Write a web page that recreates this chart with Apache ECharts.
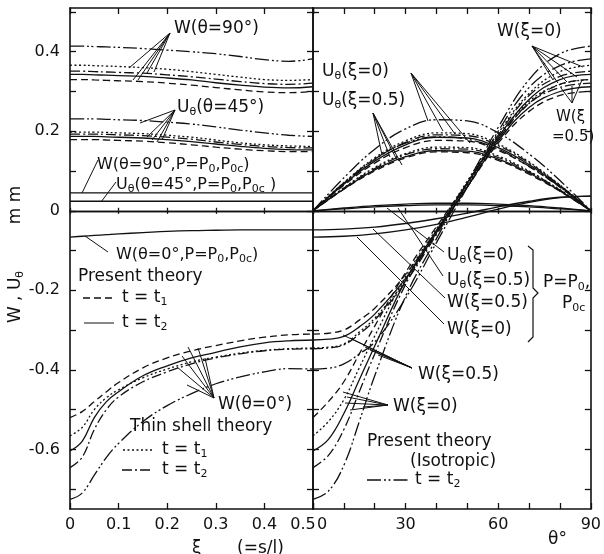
<!DOCTYPE html>
<html>
<head>
<meta charset="utf-8">
<script src="https://cdn.jsdelivr.net/npm/echarts@6/dist/echarts.min.js"></script>
<style>
  html, body { margin: 0; background: #fff; }
  #chart { width: 604px; height: 554px; }
</style>
</head>
<body>
<div id="chart"></div>
<script>
// rows in every group: present t1 (dashed), present t2 (solid), thin t1 (dotted), thin t2 (dash-dot), isotropic t2
const xi = [0, 0.025, 0.05, 0.075, 0.1, 0.15, 0.2, 0.25, 0.3, 0.35, 0.4, 0.45, 0.5];
const wTheta90 = [
  [0.33, 0.33, 0.329, 0.328, 0.327, 0.325, 0.321, 0.316, 0.31, 0.304, 0.299, 0.297, 0.3],
  [0.343, 0.343, 0.342, 0.341, 0.34, 0.338, 0.334, 0.329, 0.322, 0.316, 0.311, 0.309, 0.312],
  [0.366, 0.366, 0.365, 0.364, 0.363, 0.36, 0.356, 0.35, 0.343, 0.336, 0.33, 0.328, 0.33],
  [0.351, 0.351, 0.35, 0.349, 0.348, 0.346, 0.342, 0.337, 0.331, 0.325, 0.32, 0.318, 0.321],
  [0.414, 0.414, 0.413, 0.412, 0.411, 0.408, 0.404, 0.4, 0.395, 0.388, 0.38, 0.376, 0.382]
];
const uTheta45 = [
  [0.179, 0.179, 0.179, 0.178, 0.177, 0.175, 0.171, 0.166, 0.16, 0.155, 0.151, 0.149, 0.149],
  [0.187, 0.187, 0.187, 0.186, 0.185, 0.183, 0.179, 0.174, 0.168, 0.162, 0.157, 0.154, 0.153],
  [0.198, 0.198, 0.198, 0.197, 0.196, 0.194, 0.19, 0.185, 0.178, 0.171, 0.166, 0.163, 0.162],
  [0.193, 0.193, 0.193, 0.192, 0.191, 0.189, 0.185, 0.18, 0.173, 0.167, 0.162, 0.159, 0.158],
  [0.231, 0.231, 0.231, 0.23, 0.229, 0.227, 0.223, 0.218, 0.211, 0.203, 0.196, 0.19, 0.187]
];
const wTheta0 = [
  [-0.52, -0.505, -0.48, -0.455, -0.432, -0.395, -0.37, -0.352, -0.339, -0.327, -0.318, -0.312, -0.31],
  [-0.604, -0.58, -0.52, -0.48, -0.455, -0.415, -0.39, -0.37, -0.356, -0.342, -0.332, -0.327, -0.325],
  [-0.566, -0.545, -0.5, -0.47, -0.45, -0.42, -0.398, -0.38, -0.368, -0.358, -0.351, -0.347, -0.345],
  [-0.646, -0.62, -0.55, -0.5, -0.468, -0.43, -0.405, -0.385, -0.37, -0.36, -0.352, -0.348, -0.347],
  [-0.726, -0.71, -0.665, -0.62, -0.585, -0.53, -0.49, -0.46, -0.435, -0.418, -0.405, -0.397, -0.398]
];
// P = P0, P0c
const wTheta90P0 = [0.045, 0.045, 0.045, 0.045, 0.045, 0.045, 0.045, 0.045, 0.045, 0.045, 0.045, 0.045, 0.045];
const uTheta45P0 = [0.024, 0.024, 0.024, 0.024, 0.024, 0.024, 0.024, 0.024, 0.024, 0.024, 0.024, 0.024, 0.024];
const wTheta0P0 = [-0.066, -0.064, -0.062, -0.06, -0.058, -0.055, -0.052, -0.05, -0.049, -0.048, -0.048, -0.048, -0.048];

const thetaW = [0, 5, 10, 15, 20, 30, 40, 50, 60, 70, 80, 90];
const wXi0 = [
  [-0.52, -0.48, -0.43, -0.36, -0.29, -0.155, -0.04, 0.07, 0.18, 0.27, 0.318, 0.33],
  [-0.604, -0.575, -0.51, -0.425, -0.34, -0.175, -0.05, 0.07, 0.185, 0.28, 0.33, 0.343],
  [-0.566, -0.53, -0.475, -0.395, -0.315, -0.165, -0.045, 0.075, 0.195, 0.295, 0.35, 0.366],
  [-0.646, -0.615, -0.55, -0.455, -0.36, -0.185, -0.055, 0.07, 0.19, 0.29, 0.338, 0.351],
  [-0.726, -0.705, -0.64, -0.53, -0.415, -0.215, -0.07, 0.07, 0.21, 0.33, 0.395, 0.414]
];
const wXi05 = [
  [-0.31, -0.308, -0.3, -0.275, -0.245, -0.16, -0.05, 0.06, 0.17, 0.25, 0.29, 0.3],
  [-0.325, -0.323, -0.316, -0.292, -0.26, -0.17, -0.055, 0.06, 0.175, 0.26, 0.3, 0.312],
  [-0.345, -0.343, -0.335, -0.305, -0.27, -0.175, -0.055, 0.065, 0.185, 0.275, 0.318, 0.33],
  [-0.347, -0.345, -0.337, -0.31, -0.275, -0.18, -0.06, 0.06, 0.18, 0.27, 0.31, 0.321],
  [-0.398, -0.396, -0.385, -0.36, -0.33, -0.22, -0.08, 0.06, 0.2, 0.31, 0.365, 0.382]
];
const thetaU = [0, 10, 20, 30, 40, 50, 60, 70, 80, 90];
const uXi0 = [
  [0, 0.064, 0.12, 0.159, 0.177, 0.175, 0.152, 0.111, 0.059, 0],
  [0, 0.067, 0.125, 0.166, 0.185, 0.183, 0.159, 0.116, 0.062, 0],
  [0, 0.071, 0.133, 0.176, 0.196, 0.194, 0.168, 0.123, 0.065, 0],
  [0, 0.069, 0.129, 0.172, 0.191, 0.189, 0.164, 0.12, 0.064, 0],
  [0, 0.083, 0.155, 0.206, 0.229, 0.226, 0.196, 0.143, 0.076, 0]
];
const uXi05 = [
  [0, 0.054, 0.1, 0.133, 0.148, 0.146, 0.127, 0.092, 0.049, 0],
  [0, 0.055, 0.103, 0.136, 0.151, 0.15, 0.13, 0.095, 0.05, 0],
  [0, 0.058, 0.109, 0.144, 0.16, 0.159, 0.138, 0.1, 0.053, 0],
  [0, 0.057, 0.106, 0.141, 0.156, 0.155, 0.134, 0.098, 0.052, 0],
  [0, 0.07, 0.13, 0.17, 0.186, 0.18, 0.155, 0.112, 0.06, 0]
];
const wXi0P0 = [-0.066, -0.064, -0.058, -0.048, -0.034, -0.016, 0.004, 0.021, 0.033, 0.037];
const wXi05P0 = [-0.048, -0.046, -0.041, -0.032, -0.02, -0.006, 0.01, 0.024, 0.034, 0.037];
const uXi0P0 = [0, 0.007, 0.013, 0.017, 0.019, 0.019, 0.017, 0.013, 0.007, 0];
const uXi05P0 = [0, 0.005, 0.01, 0.013, 0.015, 0.015, 0.013, 0.01, 0.005, 0];

const yTicks = [-0.7, -0.6, -0.5, -0.4, -0.3, -0.2, -0.1, 0, 0.1, 0.2, 0.3, 0.4, 0.5];
const yLabels = [-0.6, -0.4, -0.2, 0, 0.2, 0.4];

const INK = '#111';
const FONT = 'DejaVu Sans';
const dashes = ['dashed', 'solid', 'dotted', 'dashDot', 'iso'];
const dashMap = {
  dashed: [7, 4],
  solid: 'solid',
  dotted: [2, 2.5],
  dashDot: [10, 3, 2, 3],
  iso: [14, 3, 2, 2.5, 2, 3]
};

function curve(xs, ys, dash, xIdx, yIdx) {
  return {
    type: 'line', xAxisIndex: xIdx, yAxisIndex: yIdx,
    data: xs.map((x, i) => [x, ys[i]]),
    smooth: 0.4, symbol: 'none', silent: true, z: 3,
    lineStyle: { color: INK, width: 1.3, type: dashMap[dash] }
  };
}

const series = [];
[wTheta90, uTheta45, wTheta0].forEach(g => g.forEach((ys, k) => series.push(curve(xi, ys, dashes[k], 0, 0))));
[wTheta90P0, uTheta45P0, wTheta0P0].forEach(ys => series.push(curve(xi, ys, 'solid', 0, 0)));
[wXi0, wXi05].forEach(g => g.forEach((ys, k) => series.push(curve(thetaW, ys, dashes[k], 4, 2))));
[uXi0, uXi05].forEach(g => g.forEach((ys, k) => series.push(curve(thetaU, ys, dashes[k], 4, 2))));
[wXi0P0, wXi05P0, uXi0P0, uXi05P0].forEach(ys => series.push(curve(thetaU, ys, 'solid', 4, 2)));

const frame = { show: true, onZero: false, lineStyle: { color: INK, width: 1.6 } };
const tickIn = len => ({ show: true, inside: true, length: len, lineStyle: { color: INK, width: 1.3 } });

function yAxis(grid, pos, withLabels) {
  return {
    type: 'value', gridIndex: grid, position: pos, min: -0.75, max: 0.51,
    axisLine: frame,
    axisTick: Object.assign(tickIn(6), { customValues: yTicks }),
    axisLabel: withLabels ? {
      customValues: yLabels, margin: 10, color: INK, fontSize: 16, fontFamily: FONT,
      formatter: v => Math.abs(v) < 1e-9 ? '0' : v.toFixed(1)
    } : { show: false },
    splitLine: { show: false }
  };
}

function xAxes(grid, yA, yB, max, interval, labelFmt, rich) {
  const base = { type: 'value', gridIndex: grid, min: 0, max: max, interval: interval, splitLine: { show: false } };
  return [
    Object.assign({}, base, {
      position: 'bottom', axisLine: frame, axisTick: tickIn(6),
      axisLabel: { margin: 8, color: INK, fontSize: 16, fontFamily: FONT, formatter: labelFmt, rich: rich }
    }),
    Object.assign({}, base, { position: 'top', axisLine: frame, axisTick: tickIn(6), axisLabel: { show: false } }),
    Object.assign({}, base, {
      position: 'bottom', axisLine: { show: true, onZero: true, onZeroAxisIndex: yA, lineStyle: { color: INK, width: 1.3 } },
      axisTick: tickIn(3), axisLabel: { show: false }
    }),
    Object.assign({}, base, {
      position: 'bottom', axisLine: { show: true, onZero: true, onZeroAxisIndex: yB, lineStyle: { color: INK, width: 1.3 } },
      axisTick: { show: true, inside: false, length: 3, lineStyle: { color: INK, width: 1.3 } }, axisLabel: { show: false }
    })
  ];
}

const leftX = xAxes(0, 0, 1, 0.5, 0.1,
  v => Math.abs(v - 0.5) < 1e-9 ? '{r|0.5}' : (v < 1e-9 ? '0' : (+v.toFixed(1)).toString()),
  { r: { padding: [0, 20, 0, 0], fontSize: 16, fontFamily: FONT, color: INK } });
const rightX = xAxes(1, 2, 3, 90, 10,
  v => v === 0 ? '{l|0}' : (v % 30 === 0 ? String(v) : ''),
  { l: { padding: [0, 0, 0, 18], fontSize: 16, fontFamily: FONT, color: INK } });

// ---- annotations (pixel positions) ----
const sub = { s: { fontSize: 11, fontFamily: FONT, padding: [8, 0, 0, 0] } };
function label(x, y, text, size, extra) {
  return Object.assign({
    type: 'text', x: x, y: y, silent: true, z: 10,
    style: { text: text, fontSize: size || 17, fontFamily: FONT, fill: INK, verticalAlign: 'middle', align: 'left', rich: sub }
  }, extra || {});
}
function seg(x1, y1, x2, y2, dash) {
  return {
    type: 'line', silent: true, z: 10,
    shape: { x1: x1, y1: y1, x2: x2, y2: y2 },
    style: { stroke: INK, lineWidth: dash ? 1.4 : 1, lineDash: dash || null }
  };
}
function fan(ax, ay, ends) {
  return ends.map(p => seg(ax, ay, p[0], p[1]));
}
function legendLine(x1, x2, y, dash) {
  const d = dashMap[dash];
  return seg(x1, y, x2, y, d === 'solid' ? null : d);
}

const graphics = [
  // left panel
  label(174, 29, 'W(θ=90°)'),
  ...fan(170, 33, [[129, 68], [133, 80], [138, 80], [147, 73], [154, 72]]),
  label(177, 108, 'U{s|θ}(θ=45°)'),
  ...fan(175, 110, [[140, 123], [147, 137], [152, 140], [157, 142], [162, 140]]),
  label(97, 165, 'W(θ=90°,P=P{s|0},P{s|0c})', 16),
  seg(98, 160, 82, 193),
  label(116, 185, 'U{s|θ}(θ=45°,P=P{s|0},P{s|0c} )', 16),
  seg(116, 182, 101, 202),
  label(116, 255, 'W(θ=0°,P=P{s|0},P{s|0c})', 16),
  seg(108, 252, 85, 236),
  label(78, 277, 'Present theory'),
  legendLine(83, 113, 298, 'dashed'),
  label(122, 298, 't = t{s|1}'),
  legendLine(84, 114, 323, 'solid'),
  label(122, 323, 't = t{s|2}'),
  label(218, 405, 'W(θ=0°)'),
  ...fan(214, 398, [[177, 367], [182, 356], [188, 347], [198, 348], [205, 358], [187, 385]]),
  label(130, 427, 'Thin shell theory'),
  legendLine(123, 153, 450, 'dotted'),
  label(162, 450, 't = t{s|1}'),
  legendLine(122, 153, 470, 'dashDot'),
  label(162, 470, 't = t{s|2}'),
  // right panel
  label(497, 32, 'W(ξ=0)'),
  ...fan(532, 46, [[553, 80], [558, 83], [567, 82], [577, 77], [583, 67]]),
  label(556, 117, 'W(ξ', 15),
  label(552, 137, '=0.5)', 15),
  ...fan(572, 103, [[561, 88], [572, 86], [582, 80]]),
  label(322, 72, 'U{s|θ}(ξ=0)'),
  ...fan(411, 73, [[428, 121], [443, 131], [455, 134], [470, 143]]),
  label(322, 101, 'U{s|θ}(ξ=0.5)'),
  ...fan(373, 113, [[382, 155], [390, 157], [397, 160], [402, 165]]),
  label(447, 256, 'U{s|θ}(ξ=0)'),
  seg(444, 252, 387, 208),
  label(447, 281, 'U{s|θ}(ξ=0.5)'),
  seg(443, 276, 398, 208),
  label(447, 303, 'W(ξ=0.5)'),
  seg(445, 298, 373, 229),
  label(447, 330, 'W(ξ=0)'),
  seg(444, 324, 357, 237),
  {
    type: 'polyline', silent: true, z: 10,
    shape: { points: [[528, 246], [533, 250], [533, 288], [538, 293], [533, 298], [533, 337], [528, 342]] },
    style: { stroke: INK, lineWidth: 1.2, fill: null }
  },
  label(543, 283, 'P=P{s|0},'),
  label(562, 304, 'P{s|0c}'),
  label(418, 375, 'W(ξ=0.5)'),
  ...fan(412, 368, [[343, 335], [350, 338], [365, 347], [370, 350], [378, 355]]),
  label(393, 407, 'W(ξ=0)'),
  ...fan(388, 405, [[343, 392], [347, 397], [345, 403], [350, 410], [363, 407]]),
  label(367, 442, 'Present theory'),
  label(410, 462, '(Isotropic)'),
  legendLine(367, 410, 480, 'iso'),
  label(415, 480, 't = t{s|2}'),
  // axis names
  label(16, 297, 'W , U{s|θ}', 17, { rotation: Math.PI / 2, style: { text: 'W , U{s|θ}', fontSize: 17, fontFamily: FONT, fill: INK, align: 'center', verticalAlign: 'middle', rich: sub } }),
  label(16, 205, 'm m', 17, { rotation: Math.PI / 2, style: { text: 'm m', fontSize: 17, fontFamily: FONT, fill: INK, align: 'center', verticalAlign: 'middle' } }),
  label(192, 549, 'ξ'),
  label(237, 549, '(=s/l)'),
  label(548, 540, 'θ°')
];

const chart = echarts.init(document.getElementById('chart'));
chart.setOption({
  animation: false,
  backgroundColor: '#fff',
  grid: [
    { left: 70, top: 8, width: 243, height: 501 },
    { left: 313, top: 8, width: 283, height: 501 }
  ],
  xAxis: leftX.concat(rightX),
  yAxis: [yAxis(0, 'left', true), yAxis(0, 'right', false), yAxis(1, 'left', false), yAxis(1, 'right', false)],
  series: series,
  graphic: graphics
});
</script>
</body>
</html>
